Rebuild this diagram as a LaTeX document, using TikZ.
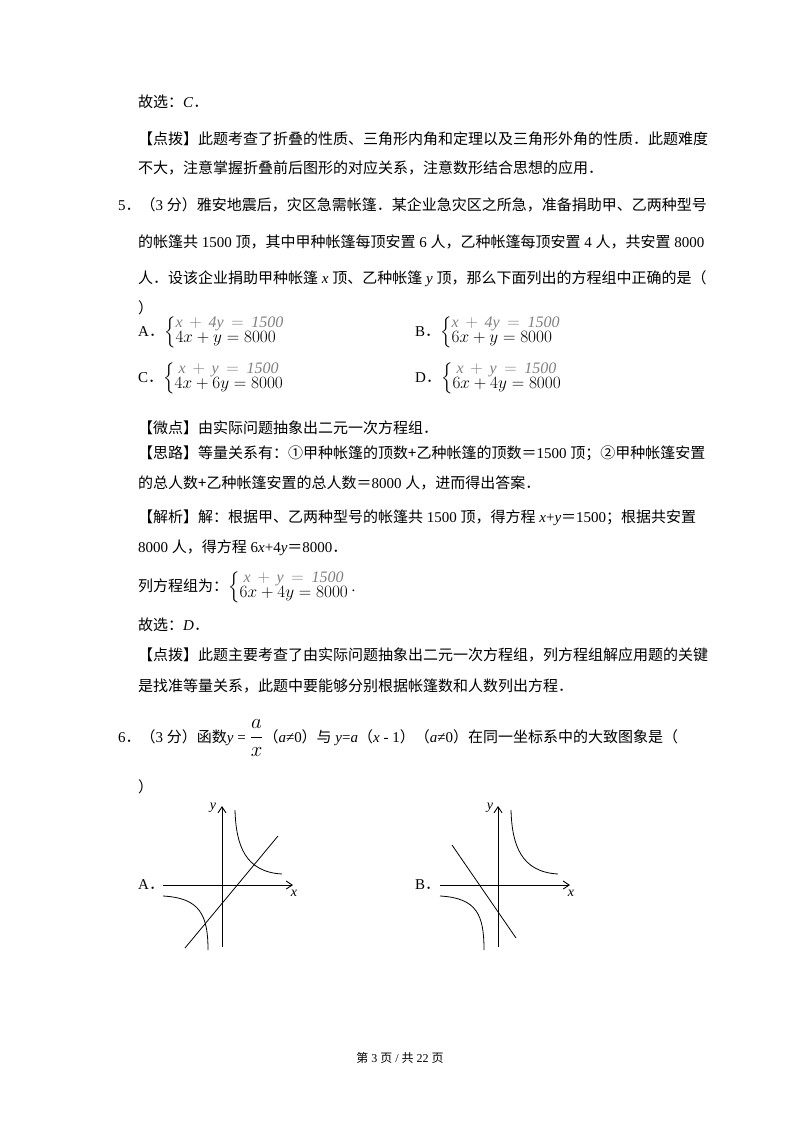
\documentclass[tikz,border=0pt]{standalone}
\usepackage{amsmath}
\usepackage{fontspec}
\setmainfont{Liberation Serif}
\newfontfamily\cjk{Noto Sans CJK SC}
\usetikzlibrary{arrows.meta}
\newcommand{\zh}[1]{{\cjk #1}}
\newcommand{\sys}[2]{{\fontsize{16}{18}\selectfont$\left\{\renewcommand{\arraystretch}{0.82}\begin{array}{@{}l@{}}\color{gray}\mathit{#1}\\ #2\end{array}\right.$}}
\begin{document}
\begin{tikzpicture}[x=1pt,y=-1pt,
  txt/.style={anchor=west,inner sep=0pt,font=\fontsize{15}{18}\selectfont},
  lbl/.style={anchor=west,inner sep=0pt,font=\fontsize{15}{18}\selectfont},
  ax/.style={line width=0.9pt,-{Straight Barb[length=6pt,width=8pt]}},
  crv/.style={line width=0.8pt}]
\useasboundingbox[fill=white] (0,0) rectangle (800,1132);
\node[txt] (l1) at (138,102) {\zh{故选：}\textit{C}\zh{．}};
\node[txt] (l2) at (138,139) {\zh{【点拨】此题考查了折叠的性质、三角形内角和定理以及三角形外角的性质．此题难度}};
\node[txt] (l3) at (138,168) {\zh{不大，注意掌握折叠前后图形的对应关系，注意数形结合思想的应用．}};
\node[txt] (l4) at (118,205) {5\zh{．（}3 \zh{分）雅安地震后，灾区急需帐篷．某企业急灾区之所急，准备捐助甲、乙两种型号}};
\node[txt] (l5) at (138,242) {\zh{的帐篷共} 1500 \zh{顶，其中甲种帐篷每顶安置} 6 \zh{人，乙种帐篷每顶安置} 4 \zh{人，共安置} 8000};
\node[txt] (l6) at (138,279) {\zh{人．设该企业捐助甲种帐篷} \textit{x} \zh{顶、乙种帐篷} \textit{y} \zh{顶，那么下面列出的方程组中正确的是（}};
\node[txt] (l7) at (138,308) {\zh{）}};
\node[lbl] (oa) at (138,332) {A\zh{．}\sys{x\,+\,4y\,=\,1500}{4x+y=8000}};
\node[lbl] (ob) at (415,332) {B\zh{．}\sys{x\,+\,4y\,=\,1500}{6x+y=8000}};
\node[lbl] (oc) at (138,378) {C\zh{．}\sys{\ x\,+\,y\,=\,1500}{4x+6y=8000}};
\node[lbl] (od) at (415,378) {D\zh{．}\sys{\ x\,+\,y\,=\,1500}{6x+4y=8000}};
\node[txt] (l8) at (138,428) {\zh{【微点】由实际问题抽象出二元一次方程组．}};
\node[txt] (l9) at (138,453) {\zh{【思路】等量关系有：①甲种帐篷的顶数+乙种帐篷的顶数＝}1500 \zh{顶；②甲种帐篷安置}};
\node[txt] (l10) at (138,483) {\zh{的总人数+乙种帐篷安置的总人数＝}8000 \zh{人，进而得出答案．}};
\node[txt] (l11) at (138,518) {\zh{【解析】解：根据甲、乙两种型号的帐篷共} 1500 \zh{顶，得方程} \textit{x}+\textit{y}\zh{＝}1500\zh{；根据共安置}};
\node[txt] (l12) at (138,548) {8000 \zh{人，得方程} 6\textit{x}+4\textit{y}\zh{＝}8000\zh{．}};
\node[txt] (l13) at (138,587) {\zh{列方程组为：}\sys{\ x\,+\,y\,=\,1500}{6x+4y=8000}\,.};
\node[txt] (l14) at (138,625) {\zh{故选：}\textit{D}\zh{．}};
\node[txt] (l15) at (138,655) {\zh{【点拨】此题主要考查了由实际问题抽象出二元一次方程组，列方程组解应用题的关键}};
\node[txt] (l16) at (138,686) {\zh{是找准等量关系，此题中要能够分别根据帐篷数和人数列出方程．}};
\node[txt] (l17) at (118,738) {6\zh{．（}3 \zh{分）函数}\textit{y} = {\fontsize{20}{20}\selectfont$\dfrac{a}{x}$}\zh{（}\textit{a}≠0\zh{）与} \textit{y}=\textit{a}\zh{（}\textit{x} - 1\zh{）（}\textit{a}≠0\zh{）在同一坐标系中的大致图象是（}};
\node[txt] (l18) at (138,787) {\zh{）}};
% graph A
\node[lbl] (la) at (138,885) {A\zh{．}};
\draw[ax] (163,885) -- (293,885);
\draw[ax] (222,947) -- (222,806);
\node[inner sep=0pt,font=\itshape\fontsize{14}{14}\selectfont] (xA) at (294,893) {x};
\node[inner sep=0pt,font=\itshape\fontsize{14}{14}\selectfont] (yA) at (213,808) {y};
\draw[crv] (235,810) .. controls (236,845) and (245,872) .. (282,874);
\draw[crv] (163,896) .. controls (200,898) and (208,915) .. (208,950);
\draw[crv] (185,948) -- (278,836);
% graph B
\node[lbl] (lb) at (415,885) {B\zh{．}};
\draw[ax] (440,885) -- (570,885);
\draw[ax] (498,947) -- (498,806);
\node[inner sep=0pt,font=\itshape\fontsize{14}{14}\selectfont] (xB) at (571,893) {x};
\node[inner sep=0pt,font=\itshape\fontsize{14}{14}\selectfont] (yB) at (490,808) {y};
\draw[crv] (511,810) .. controls (512,845) and (521,872) .. (558,874);
\draw[crv] (440,896) .. controls (477,898) and (484,915) .. (484,950);
\draw[crv] (452,845) -- (516,938);
\node[inner sep=0pt,font=\fontsize{12}{14}\selectfont] (ft) at (400,1058) {\zh{第} 3 \zh{页} / \zh{共} 22 \zh{页}};
\end{tikzpicture}
\end{document}
